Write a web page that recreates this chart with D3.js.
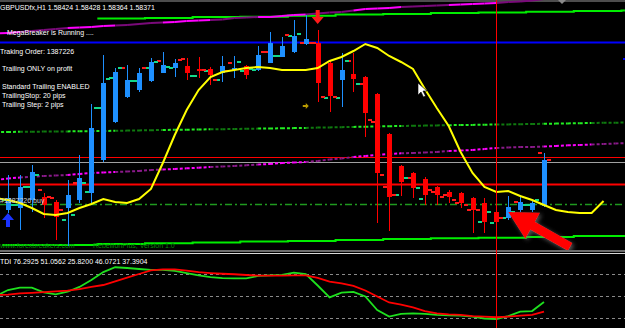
<!DOCTYPE html>
<html>
<head>
<meta charset="utf-8">
<script src="https://cdn.jsdelivr.net/npm/d3@7"></script>
<style>
html, body { margin: 0; padding: 0; background: #000; }
svg { display: block; }
text { font-family: "Liberation Sans", Arial, sans-serif; font-size: 7px; }
</style>
</head>
<body>
<div id="chart"></div>
<script>
// ---- data (bars 0..45, H1 GBPUSD) ----
const opens  = [1.5790,1.5792,1.5800,1.5803,1.5798,1.5792,1.5800,1.5807,1.5840,1.5878,1.5903,1.5910,1.5919,1.5927,1.5932,1.5934,1.5931,1.5931,1.5927,1.5930,1.5934,1.5930,1.5937,1.5943,1.5948,1.5956,1.5957,1.5937,1.5920,1.5926,1.5923,1.5906,1.5866,1.5834,1.5827,1.5821,1.5813,1.5808,1.5807,1.5802,1.5797,1.5788,1.5782,1.5790,1.5790,1.5794];
const highs  = [1.5825,1.5825,1.5835,1.5807,1.5800,1.5820,1.5845,1.5896,1.5945,1.5932,1.5935,1.5932,1.5942,1.5948,1.5941,1.5942,1.5943,1.5933,1.5944,1.5944,1.5935,1.5954,1.5968,1.5963,1.5980,1.5985,1.5970,1.5939,1.5947,1.5947,1.5924,1.5907,1.5867,1.5835,1.5828,1.5823,1.5814,1.5810,1.5808,1.5803,1.5802,1.5789,1.5804,1.5805,1.5800,1.5847];
const lows   = [1.5787,1.5770,1.5788,1.5782,1.5760,1.5754,1.5797,1.5795,1.5838,1.5877,1.5902,1.5908,1.5918,1.5927,1.5923,1.5920,1.5922,1.5915,1.5918,1.5922,1.5921,1.5929,1.5937,1.5943,1.5947,1.5955,1.5898,1.5888,1.5893,1.5908,1.5863,1.5777,1.5769,1.5804,1.5802,1.5795,1.5795,1.5797,1.5792,1.5767,1.5767,1.5763,1.5780,1.5788,1.5788,1.5793];
const closes = [1.5802,1.5813,1.5828,1.5795,1.5783,1.5805,1.5822,1.5872,1.5917,1.5928,1.5920,1.5927,1.5938,1.5935,1.5937,1.5927,1.5929,1.5925,1.5934,1.5932,1.5925,1.5945,1.5957,1.5954,1.5964,1.5961,1.5917,1.5904,1.5930,1.5921,1.5887,1.5827,1.5803,1.5818,1.5812,1.5805,1.5805,1.5803,1.5797,1.5790,1.5778,1.5778,1.5793,1.5798,1.5797,1.5840];

// small side ticks (left / right of each bar)
const tickLeft  = [1.5800,1.5795,1.5813,1.5810,1.5802,1.5780,1.5817,1.5808,1.5892,1.5922,1.5932,1.5919,1.5932,1.5939,1.5932,1.5941,1.5924,1.5929,1.5920,1.5937,1.5929,1.5930,1.5948,1.5944,1.5964,1.5957,1.5957,1.5902,1.5902,1.5939,1.5916,1.5878,1.5813,1.5805,1.5822,1.5801,1.5808,1.5805,1.5797,1.5790,1.5778,1.5777,1.5782,1.5798,1.5795,1.5847];
const tickRight = [1.5795,1.5813,1.5825,1.5803,1.5790,1.5785,1.5817,1.5892,1.5921,1.5932,1.5919,1.5932,1.5938,1.5933,1.5940,1.5924,1.5930,1.5920,1.5929,1.5938,1.5931,1.5948,1.5944,1.5965,1.5966,1.5957,1.5903,1.5903,1.5939,1.5916,1.5880,1.5825,1.5805,1.5822,1.5812,1.5810,1.5803,1.5800,1.5795,1.5790,1.5788,1.5782,1.5788,1.5795,1.5800,1.5840];
const tickLeftUp  = "gggrrgrgggrggrgrgggrggrggrrggrrrrgrgrrrrgggrgr".split("");
const tickRightUp = "gggrrggggggrggrgrrrggrgrgrrrggrrrggrrrrrgrgggrr".split("");

// centred moving average (yellow), bars -1..50
const tmaStart = -1;
const tma = [1.5802,1.5800,1.5797,1.5792,1.5786,1.5785,1.5787,1.5792,1.5796,1.5801,1.5798,1.5797,1.5801,1.5811,1.5837,1.5865,1.5890,1.5910,1.5923,1.5928,1.5930,1.5932,1.5933,1.5932,1.5930,1.5930,1.5930,1.5932,1.5939,1.5943,1.5949,1.5956,1.5952,1.5944,1.5938,1.5931,1.5911,1.5892,1.5874,1.5848,1.5827,1.5813,1.5808,1.5809,1.5804,1.5800,1.5795,1.5790,1.5788,1.5787,1.5787,1.5799];

// upper magenta band, bars -1..45
const magStart = -1;
const magUpper = [1.59665,1.5967,1.5968,1.5969,1.5970,1.5971,1.5972,1.59725,1.5973,1.5974,1.59745,1.5975,1.5976,1.5977,1.59775,1.5978,1.5979,1.59795,1.5980,1.59805,1.5982,1.59825,1.5983,1.5983,1.5984,1.5985,1.59855,1.59865,1.59875,1.5988,1.59895,1.5991,1.59915,1.5992,1.5993,1.59935,1.5994,1.59945,1.5995,1.59955,1.5996,1.59965,1.5997,1.5998,1.59985,1.59995,1.6001];

// middle dotted lines, bars -1..52
const midStart = -1;
const magMid = [1.5820,1.58215,1.58225,1.58233,1.5824,1.58245,1.5825,1.5826,1.5827,1.58275,1.5828,1.58285,1.5829,1.5830,1.58305,1.5831,1.58317,1.58323,1.5833,1.58335,1.5834,1.58347,1.58355,1.5836,1.5837,1.58375,1.5838,1.5839,1.58405,1.58415,1.5843,1.5844,1.5845,1.5846,1.58467,1.5847,1.58475,1.5848,1.5849,1.58495,1.5850,1.5851,1.5852,1.58525,1.5853,1.5853,1.58535,1.5854,1.58547,1.5855,1.58555,1.5856,1.58565,1.5857];
const greenMid = [1.58679,1.5868,1.58682,1.58683,1.58684,1.58685,1.58686,1.58688,1.58689,1.5869,1.58692,1.58694,1.58696,1.58698,1.5870,1.58702,1.58703,1.58705,1.58707,1.58708,1.5871,1.58712,1.58714,1.58715,1.58717,1.58719,1.58721,1.58724,1.58726,1.58728,1.58731,1.58733,1.58735,1.58738,1.5874,1.58742,1.58744,1.58746,1.58748,1.5875,1.58751,1.58753,1.58755,1.58756,1.58758,1.5876,1.58762,1.58764,1.58766,1.58768,1.5877,1.58772,1.58773,1.58775];

// H4 step bands (one value per 4 bars, group k = bars 4k..4k+3)
const upperBand = [null,null,1.59815,1.5982,1.5983,1.59833,1.59843,1.59855,1.5986,1.5987,1.59875,1.59882,1.5989,1.59895];
const lowerBand = [1.5755,1.5755,1.5756,1.57567,1.57575,1.57585,1.5759,1.5760,1.5761,1.57617,1.57623,1.5763,1.5764,1.5764];

// horizontal levels
const blueLevel = 1.5958;
const redLevelHigh = 1.5843;
const bidLevel = 1.5838;
const redLevelLow = 1.5816;
const dashDotLevel = 1.5796;
const cursorBar = 41;

// TDI sub window, bars -1..45
const tdiStart = -1;
const tdiGreen = [50,54.9,56.8,56.8,52.9,51.4,53.5,57.4,63.1,69.6,73.5,72.9,72.1,71.3,71.3,70.5,68.8,66.8,65.5,64.7,64.5,64.5,66.4,66.8,67.2,69.1,68,58.6,48.9,52.7,53.3,49.6,38.5,33.1,35.3,35.8,35.3,34.5,34.2,33.9,33.2,31.6,31.2,33.6,37.2,37.7,45.1];
const tdiRed = [50.7,51.2,52.2,52.6,53.1,53.8,54.4,55.7,57.4,59,61.9,65,68,70.9,71.8,71.8,70.7,69.6,68.8,68.2,67.8,67.2,66.7,66.6,66.6,66.8,66.8,64.9,61.7,60.4,58.2,54.5,49.6,44.7,43,40.6,37.7,35.7,34.9,34.5,33.6,33.1,32.6,33.2,34,34.5,37.2];
const tdiLevels = [68, 50, 32];

const titleText = "GBPUSDfx,H1  1.58424 1.58428 1.58364 1.58371";
const infoLines = ["Traking Order: 1387226", "Trailing ONLY on profit", "Standard Trailing ENABLED", "TrailingStop: 20 pips", "Trailing Step: 2 pips"];
const tdiText = "TDI 76.2925 51.0562 25.8200 46.0721 37.3904";

// ---- drawing ----
const W = 625, H = 328;
const x = d3.scaleLinear().domain([0, 45]).range([8, 544]);
const y = d3.scaleLinear().domain([1.575, 1.600]).range([250, 0]);
const ty = d3.scaleLinear().domain([32, 68]).range([318, 274]);

const svg = d3.select("#chart").append("svg").attr("width", W).attr("height", H);
const defs = svg.append("defs");
defs.append("clipPath").attr("id", "mainClip").append("rect").attr("width", W).attr("height", 250);
defs.append("clipPath").attr("id", "subClip").append("rect").attr("y", 255).attr("width", W).attr("height", 73);
const shadow = defs.append("filter").attr("id", "shadow").attr("x", -0.3).attr("y", -0.3).attr("width", 1.6).attr("height", 1.6);
shadow.append("feDropShadow").attr("dx", 2).attr("dy", 2).attr("stdDeviation", 2).attr("flood-color", "#777").attr("flood-opacity", 0.7);

svg.append("rect").attr("width", W).attr("height", H).attr("fill", "#000");
const main = svg.append("g").attr("clip-path", "url(#mainClip)");

// top border line
main.append("line").attr("x1", 0).attr("x2", W).attr("y1", 1).attr("y2", 1).attr("stroke", "#9a9a9a");

// horizontal levels
function hline(price, color, width, dash) {
  main.append("line").attr("x1", 0).attr("x2", W)
    .attr("y1", Math.round(y(price)) + 0.5).attr("y2", Math.round(y(price)) + 0.5)
    .attr("stroke", color).attr("stroke-width", width)
    .attr("stroke-dasharray", dash || null);
}
hline(blueLevel, "#0000ff", 2);
hline(redLevelHigh, "#ff0000", 1);
hline(bidLevel, "#a0a0a0", 1);
hline(redLevelLow, "#ff0000", 2);
hline(dashDotLevel, "#1f9a1f", 1.5, "7,3,2,3");

// segment lines with alternating colour groups of 4 bars
function altSegments(vals, start, bright, dark, width, dash) {
  for (let i = 0; i < vals.length - 1; i++) {
    const b = i + start;
    const k = Math.floor((b - 1) / 4);
    const isBright = ((k % 2) + 2) % 2 === 1;
    main.append("line")
      .attr("x1", x(b)).attr("y1", y(vals[i]))
      .attr("x2", x(b + 1)).attr("y2", y(vals[i + 1]))
      .attr("stroke", isBright ? bright : dark)
      .attr("stroke-width", width)
      .attr("stroke-dasharray", dash || null);
  }
}
altSegments(greenMid, midStart, "#22ee22", "#0f7a0f", 2, "3,2");
altSegments(magMid, midStart, "#ff00ff", "#8a1a8a", 2, "3,2");

// H4 step bands
function stepBand(vals, color) {
  const pts = [];
  vals.forEach((v, k) => {
    if (v == null) return;
    pts.push([x(4 * k - 0.5), y(v)]);
    pts.push([x(4 * k + 3.5), y(v)]);
  });
  main.append("path").attr("d", d3.line()(pts)).attr("fill", "none")
    .attr("stroke", color).attr("stroke-width", 2);
}
stepBand(upperBand, "#00ee00");
stepBand(lowerBand, "#00ee00");
altSegments(magUpper, magStart, "#ff00ff", "#7a0a7a", 2);

// website caption
main.append("text").attr("x", 0).attr("y", 248).attr("fill", "#0a8a0a").text("www.forexbreakers.com");
main.append("text").attr("x", 93).attr("y", 248).attr("fill", "#0a8a0a").text("RebellionPlus, Version 1.0");

// candles
const bars = opens.map((o, i) => ({ i, o, h: highs[i], l: lows[i], c: closes[i] }));
const col = d => d.c >= d.o ? "#1e90ff" : "#ff0000";
const cg = main.append("g");
cg.selectAll("line.wick").data(bars).enter().append("line")
  .attr("x1", d => Math.round(x(d.i)) + 0.5).attr("x2", d => Math.round(x(d.i)) + 0.5)
  .attr("y1", d => y(d.h)).attr("y2", d => y(d.l))
  .attr("stroke", col).attr("stroke-width", 1);
cg.selectAll("rect.body").data(bars).enter().append("rect")
  .attr("x", d => Math.round(x(d.i)) - 2).attr("width", 5)
  .attr("y", d => y(Math.max(d.o, d.c)))
  .attr("height", d => Math.max(1, y(Math.min(d.o, d.c)) - y(Math.max(d.o, d.c))))
  .attr("fill", col);
const tickCol = c => c === "g" ? "#12d88a" : "#ff1a1a";
cg.selectAll("line.tl").data(bars).enter().append("line")
  .attr("x1", d => Math.round(x(d.i)) - 6).attr("x2", d => Math.round(x(d.i)) - 2)
  .attr("y1", d => y(tickLeft[d.i])).attr("y2", d => y(tickLeft[d.i]))
  .attr("stroke", d => tickCol(tickLeftUp[d.i])).attr("stroke-width", 2);
cg.selectAll("line.tr").data(bars).enter().append("line")
  .attr("x1", d => Math.round(x(d.i)) + 3).attr("x2", d => Math.round(x(d.i)) + 7)
  .attr("y1", d => y(tickRight[d.i])).attr("y2", d => y(tickRight[d.i]))
  .attr("stroke", d => tickCol(tickRightUp[d.i])).attr("stroke-width", 2);

// yellow centred MA
main.append("path")
  .attr("d", d3.line().x((v, i) => x(i + tmaStart)).y(v => y(v))(tma))
  .attr("fill", "none").attr("stroke", "#ffff00").attr("stroke-width", 2);

// texts
main.append("text").attr("x", 0).attr("y", 10).attr("fill", "#fff").text(titleText);
main.append("text").attr("x", 7).attr("y", 35).attr("fill", "#fff").text("MegaBreaker is Running ....");
const infoY = [53.5, 71, 88.5, 97.5, 106.5];
infoLines.forEach((t, k) => {
  main.append("text").attr("x", k === 0 ? 0 : 2).attr("y", infoY[k]).attr("fill", "#fff").text(t);
});
main.append("text").attr("x", 0).attr("y", 202.5).attr("fill", "#d0d0d0").text("#1387226 buy");

// arrows
const bx = x(0), by = y(lows[0]);
main.append("path")
  .attr("d", `M${bx},${by} L${bx + 6},${by + 7} L${bx + 2},${by + 7} L${bx + 2},${by + 14} L${bx - 2},${by + 14} L${bx - 2},${by + 7} L${bx - 6},${by + 7} Z`)
  .attr("fill", "#1a33ff");
const rx = x(26), ry = y(1.5976);
main.append("path")
  .attr("d", `M${rx},${ry} L${rx + 6},${ry - 7} L${rx + 2},${ry - 7} L${rx + 2},${ry - 14} L${rx - 2},${ry - 14} L${rx - 2},${ry - 7} L${rx - 6},${ry - 7} Z`)
  .attr("fill", "#ff1a1a");
const ox = x(25), oy = y(1.5894);
main.append("path")
  .attr("d", `M${ox - 3},${oy - 1} L${ox},${oy - 1} L${ox},${oy - 3} L${ox + 3},${oy} L${ox},${oy + 3} L${ox},${oy + 1} L${ox - 3},${oy + 1} Z`)
  .attr("fill", "#b89a00");

// big red annotation arrow
(function () {
  const tx = x(42), tyy = y(1.5788);
  const ang = Math.atan2(35, 62);
  const ux = Math.cos(ang), uy = Math.sin(ang), px = -uy, py = ux;
  const headL = 28, headW = 15, shaftW = 4.5, len = 71;
  const P = (a, b) => [tx + ux * a + px * b, tyy + uy * a + py * b];
  const pts = [P(0, 0), P(headL, headW), P(headL, shaftW), P(len, shaftW), P(len, -shaftW), P(headL, -shaftW), P(headL, -headW)];
  main.append("path").attr("d", d3.line()(pts) + "Z").attr("fill", "#ff0000").attr("filter", "url(#shadow)");
})();

// mouse cursor
main.append("path")
  .attr("d", "M418,83 L418,95 L421,92 L423.5,97 L425.5,96 L423,91 L427,91 Z")
  .attr("fill", "#fff").attr("stroke", "#000").attr("stroke-width", 0.6);

// shift marker & small right-edge mark
main.append("path").attr("d", "M558,0 L566,0 L562,4 Z").attr("fill", "#8a8a8a");
main.append("rect").attr("x", 623).attr("y", 58).attr("width", 2).attr("height", 2).attr("fill", "#0000ff");

// window separators
[251, 253.5].forEach(v => svg.append("line").attr("x1", 0).attr("x2", W).attr("y1", v).attr("y2", v).attr("stroke", "#d8d8d8"));

// TDI sub window
const sub = svg.append("g").attr("clip-path", "url(#subClip)");
sub.selectAll("line.lvl").data(tdiLevels).enter().append("line")
  .attr("x1", 0).attr("x2", W)
  .attr("y1", d => Math.round(ty(d)) + 0.5).attr("y2", d => Math.round(ty(d)) + 0.5)
  .attr("stroke", "#8a8a8a").attr("stroke-dasharray", "3,3");
sub.append("path")
  .attr("d", d3.line().x((v, i) => x(i + tdiStart)).y(v => ty(v))(tdiGreen))
  .attr("fill", "none").attr("stroke", "#1ee01e").attr("stroke-width", 1.8);
sub.append("path")
  .attr("d", d3.line().x((v, i) => x(i + tdiStart)).y(v => ty(v))(tdiRed))
  .attr("fill", "none").attr("stroke", "#ff0000").attr("stroke-width", 1.8);
svg.append("text").attr("x", 0).attr("y", 263.5).attr("fill", "#fff").text(tdiText);

// vertical cursor line through both windows
svg.append("line").attr("x1", Math.round(x(cursorBar)) + 0.5).attr("x2", Math.round(x(cursorBar)) + 0.5)
  .attr("y1", 0).attr("y2", H).attr("stroke", "#ff0000").attr("stroke-width", 1);
</script>
</body>
</html>
